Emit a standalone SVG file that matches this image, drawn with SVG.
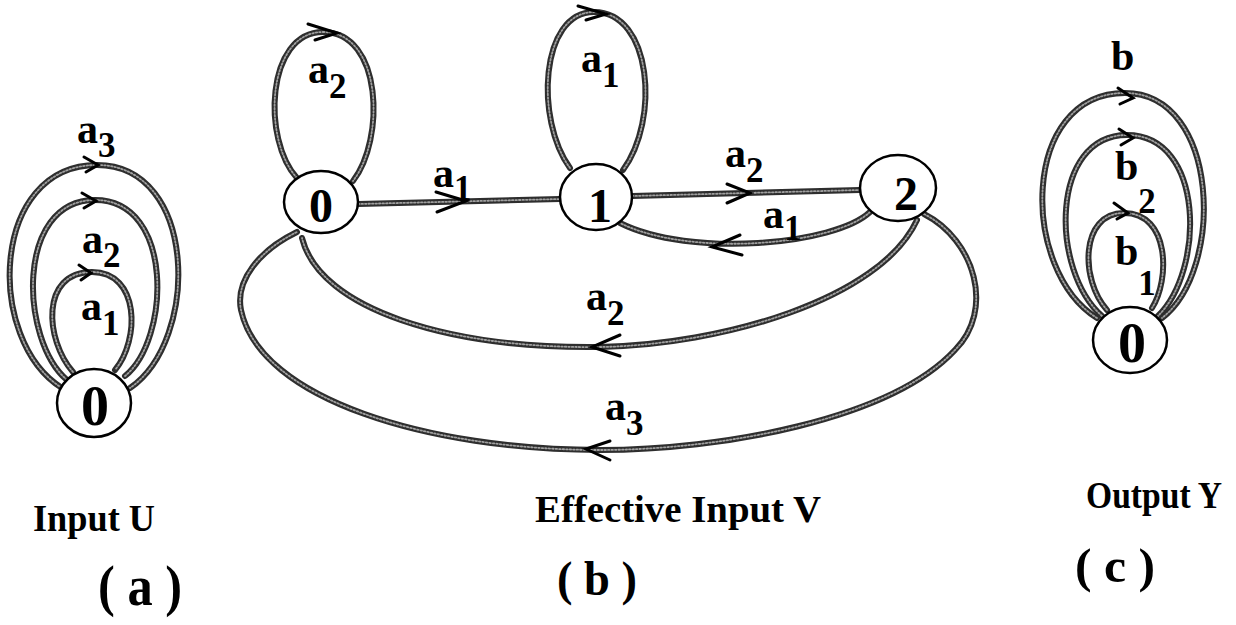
<svg xmlns="http://www.w3.org/2000/svg" width="1236" height="625" viewBox="0 0 1236 625">
<style>
.e{fill:none;stroke:#2e2e2e;stroke-width:6;stroke-linecap:round}
.t{fill:none;stroke:#a0a0a0;stroke-width:1.8;stroke-dasharray:1.5 2;stroke-linecap:round}
.ah{fill:none;stroke:#000;stroke-width:3;stroke-linecap:round;stroke-linejoin:miter}
.n{fill:#fff;stroke:#000;stroke-width:2.5}
text{font-family:"Liberation Serif","Times New Roman",serif;font-weight:bold;fill:#000}
.nl{text-anchor:middle}
.lb{font-size:42px}
.sb{font-size:35px}
</style>
<g id="connectors">
  <!-- (a) loops -->
  <path class="e" d="M62,388 C-15,340 -10,165 97,165 C198,165 200,340 130,388"/>
  <path class="e" d="M67,380 C20,340 15,200 95,200 C175,200 170,340 125,376"/>
  <path class="e" d="M73,372 C45,340 40,272 92,272 C140,272 140,340 115,370"/>
  <!-- (b) -->
  <path class="e" d="M297,178 C262,140 266,32 323,32 C383,32 385,140 353,181"/>
  <path class="e" d="M570,168 C535,120 540,12 594,12 C652,12 660,120 623,170"/>
  <path class="e" d="M358,204 L560,199"/>
  <path class="e" d="M632,196 L860,190"/>
  <path class="e" d="M870,212 C835,245 690,258 620,223"/>
  <path class="e" d="M917,220 C880,300 720,345 600,347 C450,349 320,310 302,238"/>
  <path class="e" d="M924,214 C975,240 995,310 955,350 C890,420 720,450 600,450 C430,450 260,400 241,310 C235,280 260,250 297,232"/>
  <!-- (c) loops -->
  <path class="e" d="M1097,318 C1020,270 1020,93 1125,93 C1220,93 1225,270 1162,318"/>
  <path class="e" d="M1102,316 C1050,270 1050,135 1127,135 C1205,135 1205,270 1158,316"/>
  <path class="e" d="M1107,310 C1080,280 1080,213 1124,213 C1170,213 1170,280 1152,308"/>
  <!-- texture overlay -->
  <path class="t" d="M62,388 C-15,340 -10,165 97,165 C198,165 200,340 130,388"/>
  <path class="t" d="M67,380 C20,340 15,200 95,200 C175,200 170,340 125,376"/>
  <path class="t" d="M73,372 C45,340 40,272 92,272 C140,272 140,340 115,370"/>
  <path class="t" d="M297,178 C262,140 266,32 323,32 C383,32 385,140 353,181"/>
  <path class="t" d="M570,168 C535,120 540,12 594,12 C652,12 660,120 623,170"/>
  <path class="t" d="M358,204 L560,199"/>
  <path class="t" d="M632,196 L860,190"/>
  <path class="t" d="M870,212 C835,245 690,258 620,223"/>
  <path class="t" d="M917,220 C880,300 720,345 600,347 C450,349 320,310 302,238"/>
  <path class="t" d="M924,214 C975,240 995,310 955,350 C890,420 720,450 600,450 C430,450 260,400 241,310 C235,280 260,250 297,232"/>
  <path class="t" d="M1097,318 C1020,270 1020,93 1125,93 C1220,93 1225,270 1162,318"/>
  <path class="t" d="M1102,316 C1050,270 1050,135 1127,135 C1205,135 1205,270 1158,316"/>
  <path class="t" d="M1107,310 C1080,280 1080,213 1124,213 C1170,213 1170,280 1152,308"/>
  <!-- arrowheads -->
  <path class="ah" d="M84,157 L98,165 L86,172"/>
  <path class="ah" d="M82,193 L96,201 L84,208"/>
  <path class="ah" d="M79,265 L91,273 L81,280"/>
  <path class="ah" d="M308,24 L337,33 L315,40"/>
  <path class="ah" d="M578,6 L606,14 L586,20"/>
  <path class="ah" d="M436,192 L466,201 L437,212"/>
  <path class="ah" d="M727,184 L750,193 L727,203"/>
  <path class="ah" d="M740,235 L712,247 L742,255"/>
  <path class="ah" d="M620,335 L592,347 L620,356"/>
  <path class="ah" d="M610,441 L586,449 L610,460"/>
  <path class="ah" d="M1118,88 L1133,98 L1120,104"/>
  <path class="ah" d="M1119,129 L1133,138 L1121,145"/>
  <path class="ah" d="M1114,203 L1128,213 L1117,219"/>
  <!-- edge labels -->
  <text class="lb" x="77" y="143">a<tspan class="sb" dy="14">3</tspan></text>
  <text class="lb" x="82" y="253">a<tspan class="sb" dy="14">2</tspan></text>
  <text class="lb" x="81" y="320">a<tspan class="sb" dy="15">1</tspan></text>
  <text class="lb" x="308" y="83">a<tspan class="sb" dy="15">2</tspan></text>
  <text class="lb" x="581" y="72">a<tspan class="sb" dy="15">1</tspan></text>
  <text class="lb" x="433" y="187">a<tspan class="sb" dy="13">1</tspan></text>
  <text class="lb" x="725" y="167">a<tspan class="sb" dy="15">2</tspan></text>
  <text class="lb" x="763" y="228">a<tspan class="sb" dy="12">1</tspan></text>
  <text class="lb" x="586" y="310">a<tspan class="sb" dy="15">2</tspan></text>
  <text class="lb" x="605" y="420">a<tspan class="sb" dy="15">3</tspan></text>
  <text class="lb" x="1111" y="70">b</text>
  <text class="lb" x="1115" y="180">b<tspan class="sb" dy="33">2</tspan></text>
  <text class="lb" x="1115" y="265">b<tspan class="sb" dy="30">1</tspan></text>
</g>
<g id="node-a0">
  <ellipse class="n" cx="94" cy="403" rx="37" ry="34"/>
  <text class="nl" x="95" y="425" font-size="56">0</text>
</g>
<g id="node-b0">
  <ellipse class="n" cx="321" cy="202" rx="37" ry="31"/>
  <text class="nl" x="321" y="222" font-size="48">0</text>
</g>
<g id="node-b1">
  <ellipse class="n" cx="596" cy="197" rx="36" ry="33"/>
  <text class="nl" x="600" y="222" font-size="48">1</text>
</g>
<g id="node-b2">
  <ellipse class="n" cx="898" cy="188" rx="38" ry="33"/>
  <text class="nl" x="906" y="210" font-size="48">2</text>
</g>
<g id="node-c0">
  <ellipse class="n" cx="1130" cy="340" rx="37" ry="33"/>
  <text class="nl" x="1132" y="362" font-size="56">0</text>
</g>
<g id="captions">
  <text x="33" y="531" font-size="37" textLength="122" lengthAdjust="spacingAndGlyphs">Input U</text>
  <text x="98" y="605" font-size="56" textLength="84" lengthAdjust="spacingAndGlyphs">( a )</text>
  <text x="535" y="522" font-size="38" textLength="286" lengthAdjust="spacingAndGlyphs">Effective  Input  V</text>
  <text x="557" y="595" font-size="48" textLength="80" lengthAdjust="spacingAndGlyphs">( b )</text>
  <text x="1086" y="508" font-size="37" textLength="136" lengthAdjust="spacingAndGlyphs">Output Y</text>
  <text x="1075" y="582" font-size="48" textLength="80" lengthAdjust="spacingAndGlyphs">( c )</text>
</g>
</svg>
